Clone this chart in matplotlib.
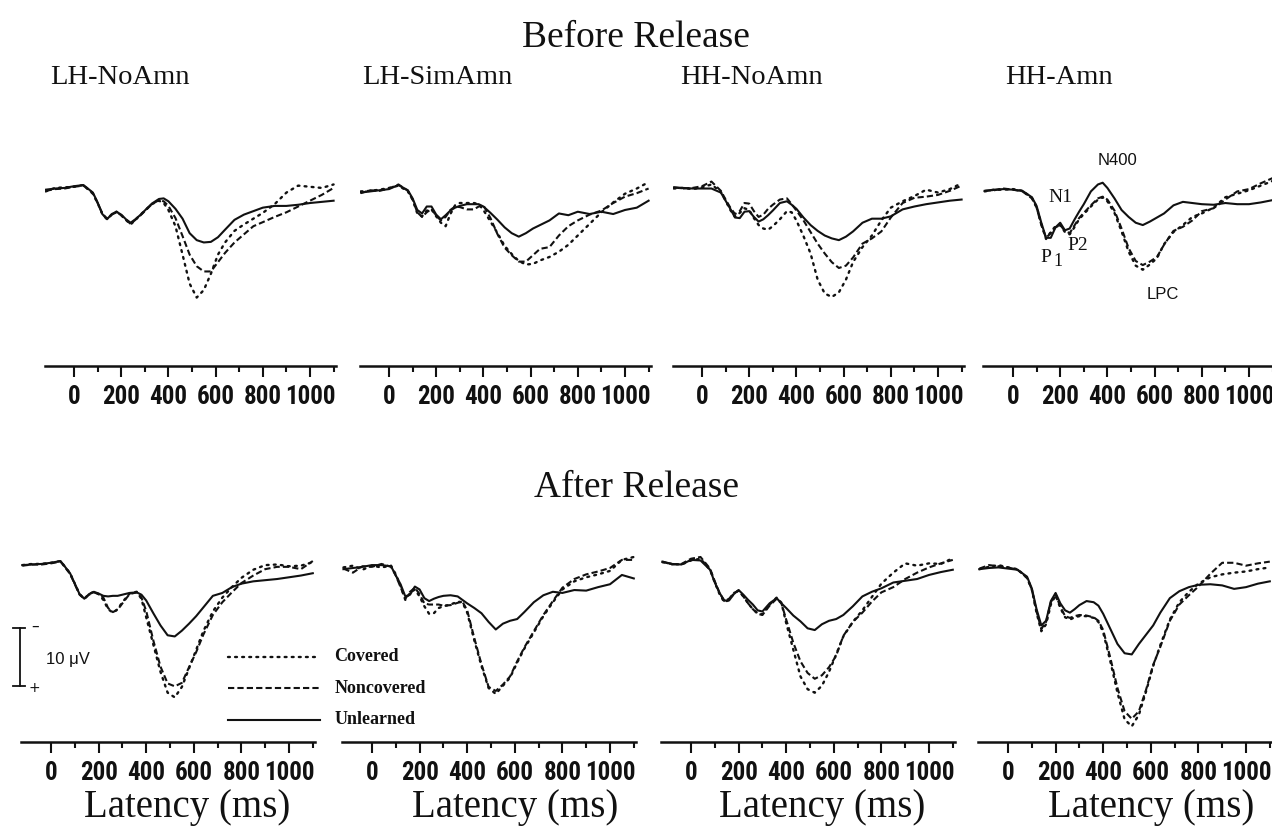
"""
ERP waveforms before and after release, four groups per row.
Saves out.png.
"""

import matplotlib
matplotlib.use("Agg")
import matplotlib.pyplot as plt
from matplotlib import font_manager

# ---- data (ms / microvolts, positive plotted downward) ----
TIME_MS = [-120, -80, -40, 0, 40, 80, 100, 120, 140, 160, 180, 200, 220, 240,
           260, 280, 300, 330, 360, 380, 400, 430, 460, 490, 520, 550, 580,
           610, 640, 680, 720, 760, 800, 850, 900, 950, 1000, 1050, 1100]

# Before release
B_LH_NOAMN_COV = [0.6, 0.0, -0.1, -0.2, -0.5, 1.0, 2.6, 4.5, 5.4, 4.6, 4.1, 4.7, 5.5, 6.3,
                  5.5, 4.7, 3.9, 2.8, 2.2, 2.6, 3.8, 6.6, 11.5, 16.5, 18.9, 17.6, 14.8,
                  11.5, 9.4, 7.4, 6.3, 5.3, 4.3, 2.8, 0.8, -0.4, -0.2, 0.0, -0.6]
B_LH_NOAMN_NON = [0.5, 0.2, 0.1, -0.2, -0.4, 0.9, 2.6, 4.4, 5.3, 4.6, 4.2, 4.7, 5.5, 6.2,
                  5.5, 4.8, 4.0, 2.8, 2.1, 2.3, 3.1, 5.2, 8.3, 11.5, 13.5, 14.4, 14.4,
                  12.8, 11.2, 9.4, 8.0, 6.6, 5.9, 5.0, 4.2, 3.2, 2.2, 1.2, 0.0]
B_LH_NOAMN_UNL = [0.3, 0.1, 0.0, -0.3, -0.5, 0.8, 2.5, 4.5, 5.4, 4.5, 4.1, 4.6, 5.4, 6.0,
                  5.4, 4.7, 3.9, 2.7, 1.9, 1.8, 2.3, 3.6, 5.3, 7.8, 9.0, 9.4, 9.3,
                  8.5, 7.2, 5.5, 4.6, 4.0, 3.4, 3.1, 3.1, 2.9, 2.6, 2.4, 2.2]

B_LH_SIMAMN_COV = [0.6, 0.5, 0.3, 0.0, -0.4, 0.6, 2.0, 4.4, 4.9, 3.9, 3.7, 4.9, 6.0, 6.6,
                   4.5, 3.0, 2.6, 2.6, 2.6, 2.8, 3.8, 5.8, 7.8, 10.0, 11.4, 12.6, 13.2,
                   13.1, 12.5, 11.9, 11.0, 9.8, 8.2, 6.2, 4.2, 2.5, 1.0, 0.1, -1.0]
B_LH_SIMAMN_NON = [0.9, 0.4, 0.5, 0.1, -0.6, 0.5, 2.0, 4.2, 5.0, 4.2, 3.6, 4.8, 5.6, 5.0,
                   3.8, 3.2, 3.3, 3.7, 3.7, 3.2, 3.0, 5.2, 8.0, 10.3, 11.6, 12.7, 12.7,
                   11.6, 10.5, 10.2, 8.2, 6.6, 5.6, 4.6, 3.9, 2.6, 1.5, 0.9, 0.1]
B_LH_SIMAMN_UNL = [0.8, 0.6, 0.4, 0.2, -0.5, 0.4, 1.8, 3.8, 4.4, 3.2, 3.2, 4.6, 5.4, 4.7,
                   3.9, 3.4, 3.1, 2.8, 2.8, 2.8, 3.2, 4.3, 5.5, 6.8, 7.8, 8.4, 7.8,
                   7.0, 6.4, 5.6, 4.4, 4.7, 4.1, 4.5, 4.1, 4.5, 3.8, 3.4, 2.2]

B_HH_NOAMN_COV = [0.1, 0.0, 0.2, -0.1, -0.6, 0.7, 2.2, 3.8, 5.0, 4.3, 3.5, 3.8, 5.2, 6.4,
                  7.0, 7.2, 6.6, 5.4, 4.0, 4.2, 5.6, 8.3, 11.3, 15.8, 18.2, 18.8, 18.0,
                  15.8, 12.8, 10.2, 8.2, 5.6, 3.4, 2.3, 1.4, 0.3, 0.8, 0.2, -0.8]
B_HH_NOAMN_NON = [-0.1, 0.1, 0.0, -0.3, -1.1, 0.5, 2.0, 3.4, 4.5, 4.0, 2.6, 2.7, 4.0, 5.0,
                  4.6, 3.6, 2.9, 2.0, 1.8, 2.8, 3.9, 5.6, 7.6, 9.6, 11.3, 12.8, 13.8,
                  13.4, 12.0, 9.6, 8.7, 7.5, 5.1, 2.6, 1.7, 1.5, 1.2, 0.5, -0.4]
B_HH_NOAMN_UNL = [-0.1, 0.0, 0.1, 0.1, 0.1, 0.8, 2.2, 3.6, 5.1, 5.2, 4.1, 4.0, 5.0, 5.8,
                  5.4, 4.7, 3.9, 2.6, 2.3, 2.9, 3.6, 5.1, 6.4, 7.4, 8.2, 8.7, 9.0,
                  8.4, 7.5, 6.0, 5.3, 5.3, 4.9, 3.7, 3.2, 2.8, 2.5, 2.2, 2.0]

B_HH_AMN_COV = [0.6, 0.3, 0.3, 0.2, 0.5, 1.7, 3.3, 6.2, 8.8, 7.6, 6.6, 6.4, 7.6, 8.0,
                6.8, 5.4, 4.5, 3.2, 2.0, 1.6, 2.3, 4.3, 7.5, 11.0, 13.4, 14.1, 13.2,
                12.1, 9.7, 7.6, 6.4, 5.0, 4.4, 3.4, 1.6, 1.0, 0.4, -0.4, -1.2]
B_HH_AMN_NON = [0.5, 0.4, 0.1, 0.3, 0.6, 1.8, 3.4, 6.4, 8.6, 7.8, 6.8, 6.4, 7.4, 7.8,
                6.5, 5.2, 4.3, 3.0, 1.8, 1.5, 2.0, 3.9, 7.0, 10.4, 12.6, 13.3, 12.7,
                11.9, 9.8, 7.4, 6.7, 5.6, 4.0, 3.5, 2.0, 0.6, 0.2, -0.8, -1.7]
B_HH_AMN_UNL = [0.5, 0.3, 0.2, 0.3, 0.5, 1.6, 3.1, 6.0, 8.6, 8.6, 6.8, 6.0, 7.3, 7.0,
                5.5, 4.1, 2.8, 0.6, -0.6, -0.9, 0.0, 1.8, 3.8, 5.0, 6.0, 6.4, 5.8,
                5.1, 4.4, 3.0, 2.4, 2.6, 2.8, 2.9, 2.6, 2.8, 2.8, 2.5, 2.1]

# After release
A_LH_NOAMN_COV = [0.2, 0.0, 0.0, -0.2, -0.5, 1.6, 3.4, 5.2, 6.0, 5.2, 4.8, 5.2, 6.2, 7.8,
                  8.4, 7.8, 6.6, 5.1, 4.8, 6.0, 9.2, 13.9, 18.6, 22.2, 23.0, 21.2, 18.0,
                  14.8, 11.6, 8.2, 5.8, 4.0, 2.4, 1.0, 0.2, 0.1, 0.4, 0.3, -0.3]
A_LH_NOAMN_NON = [0.3, 0.1, 0.1, -0.1, -0.4, 1.7, 3.5, 5.3, 6.0, 5.3, 4.9, 5.2, 5.8, 7.6,
                  8.3, 7.9, 6.8, 5.2, 4.9, 5.8, 8.1, 13.2, 17.7, 20.6, 21.1, 20.5, 17.8,
                  15.2, 12.2, 8.8, 6.6, 4.9, 3.3, 2.0, 0.9, 0.5, 0.5, 0.9, -0.5]
A_LH_NOAMN_UNL = [0.2, 0.1, 0.0, -0.2, -0.5, 1.6, 3.4, 5.2, 6.0, 5.2, 4.8, 5.1, 5.5, 5.6,
                  5.5, 5.5, 5.3, 5.0, 4.9, 5.3, 6.3, 8.5, 10.6, 12.3, 12.5, 11.5, 10.3,
                  9.0, 7.5, 5.5, 5.0, 4.0, 3.4, 3.0, 2.8, 2.6, 2.3, 2.0, 1.6]

A_LH_SIMAMN_COV = [0.6, 0.3, 1.0, 0.3, 0.6, 0.3, 1.8, 3.8, 6.2, 5.0, 4.4, 5.6, 7.3, 8.6,
                   8.5, 7.6, 7.3, 7.0, 6.5, 6.6, 8.4, 13.2, 17.6, 21.4, 22.4, 21.0, 19.6,
                   17.0, 14.6, 11.8, 9.0, 6.6, 4.4, 3.0, 2.3, 1.8, 1.2, -0.7, -1.2]
A_LH_SIMAMN_NON = [0.8, 1.5, 0.4, 0.5, 0.0, 0.5, 2.0, 4.0, 6.0, 4.8, 4.1, 5.2, 6.8, 7.0,
                   7.0, 7.0, 7.2, 7.1, 6.7, 6.5, 8.0, 12.8, 17.3, 21.2, 21.9, 20.8, 19.4,
                   16.8, 14.4, 11.6, 8.8, 6.4, 4.1, 2.6, 1.8, 1.3, 0.7, -0.7, -0.7]
A_LH_SIMAMN_UNL = [0.9, 0.7, 0.5, 0.2, 0.2, 0.4, 2.0, 3.5, 5.6, 5.3, 3.9, 4.4, 5.9, 6.4,
                   6.0, 5.7, 5.5, 5.4, 5.6, 6.2, 6.8, 7.6, 8.5, 10.0, 11.3, 10.3, 9.8,
                   9.5, 8.3, 6.6, 5.4, 4.8, 5.0, 4.5, 4.6, 4.0, 3.5, 1.9, 2.5]

A_HH_NOAMN_COV = [-0.3, 0.0, 0.1, -0.6, -0.9, 1.0, 3.2, 5.2, 6.6, 6.2, 5.1, 4.6, 5.6, 6.8,
                  7.8, 8.5, 8.7, 7.0, 5.8, 6.7, 10.2, 14.8, 19.4, 21.6, 22.2, 21.0, 18.6,
                  15.6, 12.5, 10.0, 8.0, 5.7, 3.4, 1.5, -0.1, 0.3, -0.1, 0.0, -1.0]
A_HH_NOAMN_NON = [-0.4, 0.1, 0.0, -0.9, -1.2, 0.8, 3.0, 5.0, 6.4, 6.0, 5.0, 4.6, 5.6, 6.8,
                  7.8, 8.6, 8.8, 7.2, 6.0, 6.8, 9.6, 13.6, 16.8, 18.8, 19.8, 19.2, 17.8,
                  15.8, 12.4, 10.0, 8.4, 6.5, 4.9, 4.0, 2.6, 1.5, 0.6, -0.1, -0.7]
A_HH_NOAMN_UNL = [-0.4, 0.0, 0.1, -0.7, -0.6, 1.0, 3.2, 5.0, 6.3, 6.3, 5.2, 4.5, 5.3, 6.2,
                  7.0, 8.0, 8.2, 6.8, 5.9, 6.8, 7.6, 8.9, 9.9, 11.1, 11.4, 10.4, 9.8,
                  9.5, 8.8, 7.3, 5.6, 4.8, 4.2, 3.2, 2.9, 2.6, 1.9, 1.4, 1.0]

A_HH_AMN_COV = [0.9, 0.5, 0.2, 0.6, 0.9, 2.4, 4.4, 8.4, 11.6, 10.4, 7.0, 5.4, 7.6, 9.2,
                9.6, 9.2, 9.0, 9.0, 9.3, 10.0, 11.8, 16.8, 22.2, 26.8, 28.0, 26.0, 22.0,
                17.6, 14.0, 9.6, 6.6, 4.8, 3.4, 2.3, 1.8, 1.5, 1.3, 0.9, 0.6]
A_HH_AMN_NON = [0.8, 0.2, 0.4, 0.6, 1.0, 2.4, 4.4, 8.2, 11.2, 10.0, 6.6, 5.2, 7.4, 9.0,
                9.3, 9.0, 8.8, 8.9, 9.2, 9.8, 11.4, 16.2, 21.4, 25.4, 26.7, 25.4, 21.7,
                17.4, 14.3, 9.8, 7.0, 5.4, 3.9, 1.7, -0.2, -0.2, 0.3, -0.1, -0.4]
A_HH_AMN_UNL = [0.9, 0.7, 0.6, 0.8, 1.0, 2.2, 4.2, 7.8, 10.6, 9.8, 6.4, 5.0, 6.8, 8.0,
                8.4, 7.8, 7.1, 6.4, 6.6, 7.2, 8.6, 11.2, 13.8, 15.4, 15.6, 13.8, 12.2,
                10.6, 8.4, 5.9, 4.7, 4.0, 3.6, 3.5, 3.7, 4.3, 4.0, 3.4, 3.0]

PANEL_TITLES = ["LH-NoAmn", "LH-SimAmn", "HH-NoAmn", "HH-Amn"]
CONDITIONS = ["Covered", "Noncovered", "Unlearned"]
XTICKS = [0, 200, 400, 600, 800, 1000]
XTICKS_MINOR = [100, 300, 500, 700, 900, 1100]

BEFORE = [
    (B_LH_NOAMN_COV, B_LH_NOAMN_NON, B_LH_NOAMN_UNL),
    (B_LH_SIMAMN_COV, B_LH_SIMAMN_NON, B_LH_SIMAMN_UNL),
    (B_HH_NOAMN_COV, B_HH_NOAMN_NON, B_HH_NOAMN_UNL),
    (B_HH_AMN_COV, B_HH_AMN_NON, B_HH_AMN_UNL),
]
AFTER = [
    (A_LH_NOAMN_COV, A_LH_NOAMN_NON, A_LH_NOAMN_UNL),
    (A_LH_SIMAMN_COV, A_LH_SIMAMN_NON, A_LH_SIMAMN_UNL),
    (A_HH_NOAMN_COV, A_HH_NOAMN_NON, A_HH_NOAMN_UNL),
    (A_HH_AMN_COV, A_HH_AMN_NON, A_HH_AMN_UNL),
]

# ---- style ----
W, H = 1272, 834
INK = "#111111"
SERIF = ["Liberation Serif", "DejaVu Serif"]
SANS = ["Liberation Sans", "DejaVu Sans"]


def pick_tick_font():
    """Prefer a narrow bold face for the tall, condensed tick digits."""
    fonts = font_manager.fontManager.ttflist
    names = {f.name for f in fonts}
    for name in ("Liberation Sans Narrow", "Roboto Condensed", "Open Sans Condensed",
                 "DejaVu Sans Condensed", "Noto Sans Condensed"):
        if name in names:
            return dict(fontfamily=name, fontstretch="normal", fontsize=18)
    if any(f.name == "DejaVu Sans" and f.stretch == "condensed" for f in fonts):
        return dict(fontfamily="DejaVu Sans", fontstretch="condensed", fontsize=15)
    return dict(fontfamily="DejaVu Sans", fontstretch="normal", fontsize=13)


TICK_FONT = pick_tick_font()

STYLES = {
    "Covered": dict(linestyle=(0, (0.8, 2.2)), linewidth=1.7, dash_capstyle="round"),
    "Noncovered": dict(linestyle=(0, (3.0, 1.5)), linewidth=1.5),
    "Unlearned": dict(linestyle="-", linewidth=1.5),
}

YLIM = (30.7, -8.0)   # inverted: negative up
PX_PER_UV = 5.8


def px_axes(fig, left, bottom_px, width, height):
    """Add axes from pixel coordinates (top-left origin)."""
    rect = [left / W, 1 - bottom_px / H, width / W, height / H]
    return fig.add_axes(rect)


def style_axes(ax):
    ax.patch.set_visible(False)
    for side in ("top", "right", "left"):
        ax.spines[side].set_visible(False)
    ax.spines["bottom"].set_linewidth(1.8)
    ax.spines["bottom"].set_color(INK)
    ax.set_yticks([])
    ax.set_xlim(-125, 1110)
    ax.set_ylim(*YLIM)
    ax.set_xticks(XTICKS)
    ax.set_xticks(XTICKS_MINOR, minor=True)
    ax.set_xticklabels([str(t) for t in XTICKS], fontweight="bold", color=INK,
                       **TICK_FONT)
    ax.tick_params(axis="x", which="major", length=8, width=1.5,
                   direction="out", pad=6, color=INK)
    ax.tick_params(axis="x", which="minor", length=4, width=1.5,
                   direction="out", color=INK)


def draw_panel(ax, series):
    for cond, values in zip(CONDITIONS, series):
        ax.plot(TIME_MS, values, color=INK, **STYLES[cond])


def main():
    fig = plt.figure(figsize=(W / 100, H / 100), dpi=100)
    fig.patch.set_facecolor("white")

    ax_h = (YLIM[0] - YLIM[1]) * PX_PER_UV
    top_zero = [74, 389, 702, 1013]
    bot_zero = [51, 372, 691, 1008]
    top_scale, bot_scale = 0.236, 0.238   # px per ms

    top_axes = []
    for zero, series in zip(top_zero, BEFORE):
        ax = px_axes(fig, zero - 125 * top_scale, 366, 1235 * top_scale, ax_h)
        style_axes(ax)
        draw_panel(ax, series)
        top_axes.append(ax)

    bot_axes = []
    for zero, series in zip(bot_zero, AFTER):
        ax = px_axes(fig, zero - 125 * bot_scale, 742, 1235 * bot_scale, ax_h)
        style_axes(ax)
        draw_panel(ax, series)
        bot_axes.append(ax)

    # titles
    fig.text(636 / W, 1 - 38 / H, "Before Release", family=SERIF, fontsize=27,
             ha="center", va="center", color=INK)
    fig.text(636 / W, 1 - 488 / H, "After Release", family=SERIF, fontsize=27,
             ha="center", va="center", color=INK)
    for x, title in zip([120, 437, 751, 1059], PANEL_TITLES):
        fig.text(x / W, 1 - 77 / H, title, family=SERIF, fontsize=20.5,
                 ha="center", va="center", color=INK)
    for x in [187, 515, 822, 1151]:
        fig.text(x / W, 1 - 807 / H, "Latency (ms)", family=SERIF, fontsize=28,
                 ha="center", va="center", color=INK)

    # component labels on HH-Amn (before)
    ax = top_axes[3]
    ax.text(443, -4.8, "N400", family=SANS, fontsize=12, ha="center", va="center", color=INK)
    ax.text(200, 1.6, "N1", family=SERIF, fontsize=14, ha="center", va="center", color=INK)
    ax.text(140, 12.0, "P", family=SERIF, fontsize=14, ha="center", va="center", color=INK)
    ax.text(190, 12.6, "1", family=SERIF, fontsize=13, ha="center", va="center", color=INK)
    ax.text(275, 10.0, "P2", family=SERIF, fontsize=14, ha="center", va="center", color=INK)
    ax.text(634, 18.3, "LPC", family=SANS, fontsize=12, ha="center", va="center", color=INK)

    # calibration bar and legend in the first "after" panel
    ax = bot_axes[0]
    ax.plot([-132, -132], [11.0, 21.0], color=INK, lw=1.3, clip_on=False)
    ax.plot([-160, -111], [11.0, 11.0], color=INK, lw=1.3, clip_on=False)
    ax.plot([-160, -111], [21.0, 21.0], color=INK, lw=1.3, clip_on=False)
    ax.text(-66, 10.8, "\u2013", fontsize=11, ha="center", va="center", color=INK)
    ax.text(-70, 21.4, "+", fontsize=10, ha="center", va="center", color=INK)
    ax.text(-20, 16.4, "10 \u03bcV", family=SANS, fontsize=12, ha="left",
            va="center", color=INK)

    for cond, yv in zip(CONDITIONS, [16.0, 21.4, 26.9]):
        ax.plot([745, 1130], [yv, yv], color=INK, clip_on=False, **STYLES[cond])
        ax.text(1190, yv, cond, family=SERIF, fontweight="bold", fontsize=13,
                ha="left", va="center", color=INK, clip_on=False)

    fig.savefig("out.png", dpi=100)
    plt.close(fig)


if __name__ == "__main__":
    main()
